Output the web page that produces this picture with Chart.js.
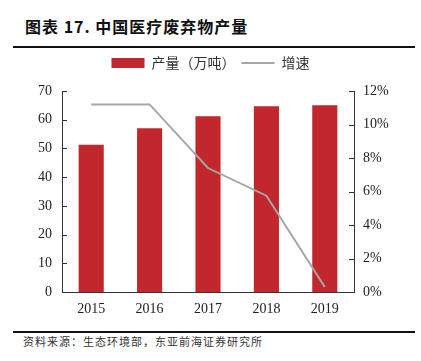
<!DOCTYPE html>
<html>
<head>
<meta charset="utf-8">
<script src="https://cdn.jsdelivr.net/npm/chart.js@4/dist/chart.umd.min.js"></script>
<style>
  html, body { margin: 0; padding: 0; background: #fff; }
  body { width: 421px; height: 361px; position: relative; overflow: hidden; }
  #title { position: absolute; left: 25px; top: 15px; font: bold 16px "Noto Sans CJK SC", sans-serif; letter-spacing: 1px; color: #111; white-space: nowrap; line-height: 22px; }
  #topline { position: absolute; left: 13px; top: 46px; width: 402px; height: 2px; background: #111; }
  #botline { position: absolute; left: 13px; top: 331px; width: 402px; height: 2px; background: #111; }
  #source { position: absolute; left: 23px; top: 333px; font: 11px "Noto Sans CJK SC", sans-serif; letter-spacing: 1px; color: #333; white-space: nowrap; line-height: 16px; }
  #wrap { position: absolute; left: 0; top: 50px; width: 421px; height: 275px; }
</style>
</head>
<body>
<div id="title">图表 17. 中国医疗废弃物产量</div>
<div id="topline"></div>
<div id="wrap"><canvas id="c" width="421" height="275"></canvas></div>
<div id="botline"></div>
<div id="source">资料来源：生态环境部，东亚前海证券研究所</div>
<script>
const categories = ['2015', '2016', '2017', '2018', '2019'];
const outputValues = [51.3, 57.0, 61.2, 64.7, 65.0];
const growthValues = [11.2, 11.2, 7.4, 5.75, 0.3];
const outputLabel = '产量（万吨）';
const growthLabel = '增速';

const axisColor = '#333';
const numFont = { family: '"Liberation Serif", "Times New Roman", serif', size: 14 };

const innerTicks = {
  id: 'innerTicks',
  beforeUpdate(chart) {
    if (chart.legend && !chart.legend._patched) {
      const orig = chart.legend.fit;
      chart.legend.fit = function () { orig.call(this); this.height += 11; };
      chart.legend._patched = true;
    }
  },
  afterDraw(chart) {
    const ctx = chart.ctx, area = chart.chartArea;
    ctx.save();
    ctx.strokeStyle = axisColor;
    ctx.lineWidth = 1;
    const ys = chart.scales.y, yr = chart.scales.y1;
    ys.ticks.forEach((t, i) => {
      const py = Math.round(ys.getPixelForTick(i)) + 0.5;
      ctx.beginPath(); ctx.moveTo(area.left, py); ctx.lineTo(area.left + 5, py); ctx.stroke();
    });
    yr.ticks.forEach((t, i) => {
      const py = Math.round(yr.getPixelForTick(i)) + 0.5;
      ctx.beginPath(); ctx.moveTo(area.right - 5, py); ctx.lineTo(area.right, py); ctx.stroke();
    });
    ctx.restore();
  }
};

new Chart(document.getElementById('c'), {
  type: 'bar',
  data: {
    labels: categories,
    datasets: [
      {
        type: 'bar', label: outputLabel, data: outputValues, yAxisID: 'y',
        backgroundColor: '#C1272D', borderWidth: 0,
        barPercentage: 0.43, categoryPercentage: 1, order: 2,
        pointStyle: 'rect'
      },
      {
        type: 'line', label: growthLabel, data: growthValues, yAxisID: 'y1',
        borderColor: '#A6A6A6', backgroundColor: '#A6A6A6', borderWidth: 2,
        pointRadius: 0, tension: 0, order: 1, pointStyle: 'line'
      }
    ]
  },
  options: {
    responsive: false,
    animation: false,
    devicePixelRatio: 1,
    layout: { padding: 0 },
    plugins: {
      tooltip: { enabled: false },
      legend: {
        position: 'top',
        labels: {
          usePointStyle: true,
          pointStyleWidth: 33,
          boxHeight: 10,
          padding: 6,
          color: '#333',
          font: { family: '"Noto Sans CJK SC", sans-serif', size: 14 },
          sort: (a, b) => a.datasetIndex - b.datasetIndex
        }
      }
    },
    scales: {
      x: {
        grid: { display: false, drawTicks: false },
        border: { display: true, color: axisColor, width: 1 },
        ticks: { color: '#222', font: numFont, padding: 9 },
        afterFit(s) { s.height = 33; }
      },
      y: {
        position: 'left', min: 0, max: 70,
        grid: { display: false, drawTicks: false },
        border: { display: true, color: axisColor, width: 1 },
        ticks: { stepSize: 10, color: '#222', font: numFont, padding: 10 },
        afterFit(s) { s.width = 62; }
      },
      y1: {
        position: 'right', min: 0, max: 12,
        grid: { display: false, drawTicks: false },
        border: { display: true, color: axisColor, width: 1 },
        ticks: { stepSize: 2, color: '#222', font: numFont, padding: 9, callback: v => v + '%' },
        afterFit(s) { s.width = 67; }
      }
    }
  },
  plugins: [innerTicks]
});
</script>
</body>
</html>
